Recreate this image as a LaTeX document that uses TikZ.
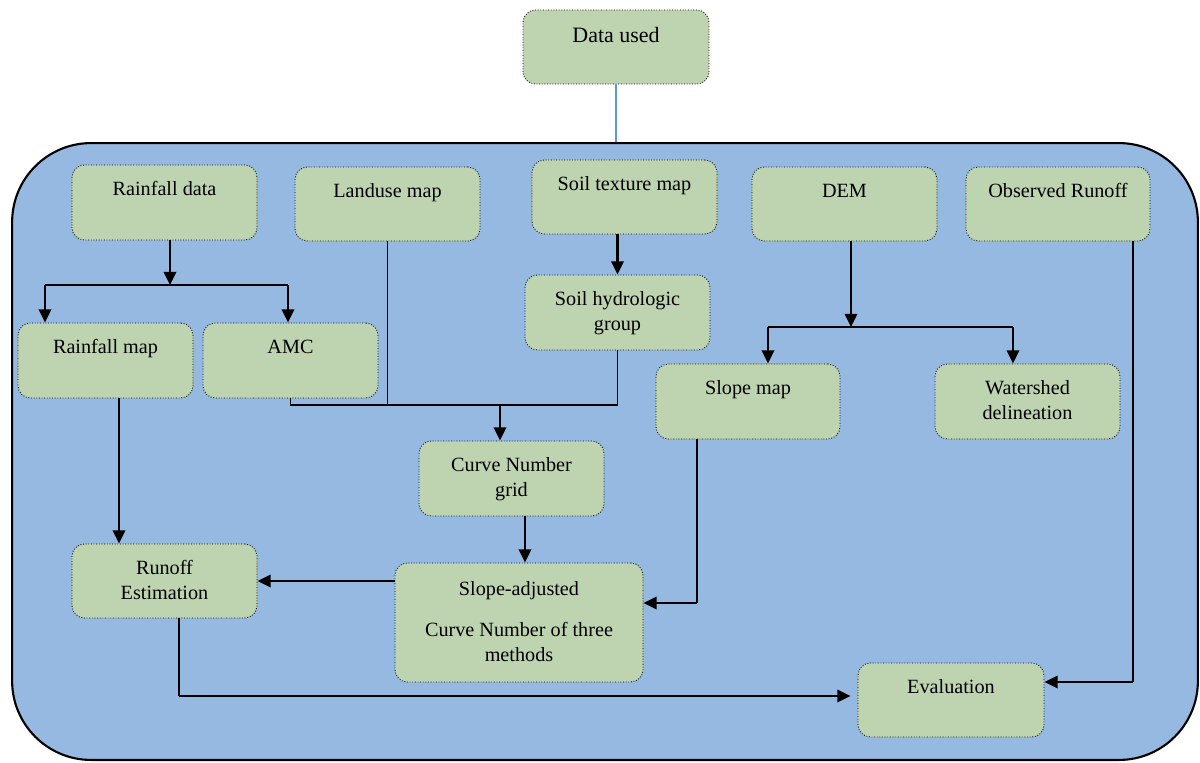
\documentclass[tikz,border=0pt]{standalone}
\usepackage{fontspec}
\setmainfont{Liberation Serif}
\usepackage{tikz}
\usetikzlibrary{arrows.meta}
\usepackage{xcolor}
\definecolor{framefill}{RGB}{149,185,224}
\definecolor{boxgreen}{RGB}{190,212,176}
\definecolor{linkblue}{RGB}{91,155,213}

\begin{document}
\begin{tikzpicture}[x=0.02cm,y=-0.02cm,
	frame/.style={draw, line width=1.2pt, fill=framefill, rounded corners=45pt,
		minimum width=23.72cm, minimum height=12.34cm, inner sep=0pt},
	proc/.style={draw, densely dotted, line width=0.5pt, fill=boxgreen, rounded corners=7pt,
		minimum width=3.7cm, minimum height=1.5cm, inner sep=0pt},
	lbl/.style={anchor=north, yshift=-7.7pt, align=center, inner sep=0pt,
		font=\fontsize{11.5pt}{14.2pt}\selectfont},
	txt/.style={label={[lbl]north:{\strut #1}}},
	thin line/.style={line width=0.6pt},
	thick line/.style={line width=1.4pt},
	arr/.style={thick line, -{Triangle[length=7.5pt,width=7pt]}}]
	\useasboundingbox (0,0) rectangle (1200,762);

	% outer frame and data box
	\node[frame] (frame) at (605,451.5) {};
	\node[proc, minimum width=3.72cm, minimum height=1.48cm,
		label={[lbl, font=\fontsize{12.5pt}{15pt}\selectfont, yshift=-0.2pt]north:{\strut Data used}}] (data) at (616,47) {};
	\draw[linkblue, line width=0.6pt] (data.south) -- (data.south |- frame.north);

	% input row
	\node[proc, txt={Rainfall data}] (rdata) at (164.5,202.5) {};
	\node[proc, minimum height=1.48cm, txt={Landuse map}] (landuse) at (387.5,204) {};
	\node[proc, minimum height=1.48cm, txt={Soil texture map}] (soiltex) at (624.5,197) {};
	\node[proc, minimum height=1.48cm, txt={DEM}] (dem) at (844.5,204) {};
	\node[proc, minimum width=3.68cm, minimum height=1.48cm, txt={Observed Runoff}] (obsrun) at (1058,204) {};

	% derived layers
	\node[proc, minimum width=3.5cm, txt={Rainfall map}] (rmap) at (105.5,360.5) {};
	\node[proc, minimum width=3.5cm, txt={AMC}] (amc) at (290.5,360.5) {};
	\node[proc, txt={Soil hydrologic\\group}] (shg) at (617.5,312.5) {};
	\node[proc, minimum width=3.68cm, txt={Slope map}] (slope) at (748,401.5) {};
	\node[proc, txt={Watershed\\delineation}] (wshed) at (1027.5,401.5) {};
	\node[proc, txt={Curve Number\\grid}] (cngrid) at (511.5,478.5) {};
	\node[proc, minimum height=1.48cm, txt={Runoff\\Estimation}] (runoff) at (164.5,581) {};
	\node[proc, minimum width=4.96cm, minimum height=2.38cm,
		label={[lbl, yshift=-1pt]north:{\strut Slope-adjusted\\[9pt]Curve Number of three\\methods}}] (scn) at (519,622.5) {};
	\node[proc, minimum width=3.72cm, minimum height=1.48cm, txt={Evaluation}] (evalbox) at (951,700) {};

	% rainfall branch
	\coordinate (rsplit) at (170,285);
	\coordinate (rl) at (45,285);
	\coordinate (rr) at (288,285);
	\draw[arr] (rsplit |- rdata.south) -- (rsplit);
	\draw[thick line] (rl) -- (rr);
	\draw[arr] (rl) -- (rl |- rmap.north);
	\draw[arr] (rr) -- (rr |- amc.north);
	\draw[arr] ([xshift=0.27cm]rmap.south) -- ([xshift=0.27cm]rmap.south |- runoff.north);

	% soil branch
	\draw[arr] (shg.north |- soiltex.south) -- (shg.north);

	% DEM branch
	\coordinate (dsplit) at (851,327);
	\coordinate (dl) at (768,327);
	\coordinate (dr) at (1013,327);
	\draw[arr] (dsplit |- dem.south) -- (dsplit);
	\draw[thick line] (dl) -- (dr);
	\draw[arr] (dl) -- (dl |- slope.north);
	\draw[arr] (dr) -- (dr |- wshed.north);

	% curve number inputs
	\coordinate (cnjoin) at (500,405);
	\draw[thin line] (landuse.south) -- (landuse.south |- cnjoin);
	\draw[thin line] (amc.south) |- (cnjoin) -| (shg.south);
	\draw[arr] (cnjoin) -- (cnjoin |- cngrid.north);
	\draw[arr] ([xshift=0.27cm]cngrid.south) -- ([xshift=0.27cm]cngrid.south |- scn.north);

	% slope adjustment
	\coordinate (sbend) at (697,603);
	\draw[thin line] (sbend |- slope.south) -- (sbend);
	\draw[arr] (sbend) -- (sbend -| scn.east);
	\draw[arr] (scn.west |- runoff.east) -- (runoff.east);

	% evaluation
	\coordinate (rbend) at (179,696);
	\coordinate (obend) at (1133,682);
	\draw[thin line] (rbend |- runoff.south) -- (rbend);
	\draw[arr, shorten >=4pt] (rbend) -- (rbend -| evalbox.west);
	\draw[thin line] (obend |- obsrun.south) -- (obend);
	\draw[arr] (obend) -- (obend -| evalbox.east);
\end{tikzpicture}
\end{document}
